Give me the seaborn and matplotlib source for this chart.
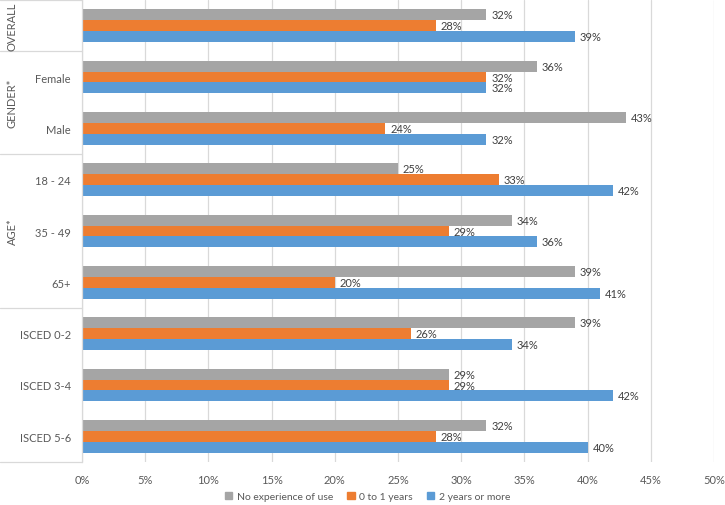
import matplotlib
matplotlib.use("Agg")
import matplotlib.pyplot as plt
import matplotlib.patches as mpatches
import seaborn as sns
import pandas as pd

categories = ["Overall", "Female", "Male", "18 - 24", "35 - 49", "65+",
              "ISCED 0-2", "ISCED 3-4", "ISCED 5-6"]
tick_labels = ["", "Female", "Male", "18 - 24", "35 - 49", "65+",
               "ISCED 0-2", "ISCED 3-4", "ISCED 5-6"]
series = ["No experience of use", "0 to 1 years", "2 years or more"]
no_experience = [32, 36, 43, 25, 34, 39, 39, 29, 32]
zero_to_one = [28, 32, 24, 33, 29, 20, 26, 29, 28]
two_or_more = [39, 32, 32, 42, 36, 41, 34, 42, 40]
groups = [("OVERALL", 0, 0), ("GENDER*", 1, 2), ("AGE*", 3, 5), ("", 6, 8)]
x_ticks = [0, 5, 10, 15, 20, 25, 30, 35, 40, 45, 50]
colors = ["#A5A5A5", "#ED7D31", "#5B9BD5"]

rows = []
for s, vals in zip(series, [no_experience, zero_to_one, two_or_more]):
    for c, v in zip(categories, vals):
        rows.append({"category": c, "series": s, "value": v})
df = pd.DataFrame(rows)

sns.set_style("white")
plt.rcParams["font.family"] = ["Lato", "DejaVu Sans"]
text_color = "#595959"
fs = 8

fig = plt.figure(figsize=(7.25, 5.06), dpi=100)
ax_w = 632
ax = fig.add_axes([82 / 725, 1 - 463 / 506, ax_w / 725, 462 / 506])

sns.barplot(data=df, y="category", x="value", hue="series", order=categories,
            hue_order=series, palette=colors, orient="h", width=0.64,
            saturation=1, ax=ax, legend=False, linewidth=0)

for cont in ax.containers:
    ax.bar_label(cont, labels=[f"{v:.0f}%" for v in cont.datavalues],
                 padding=3.5, fontsize=fs, color="#404040")

ax.set_xlim(0, 50)
ax.set_xticks(x_ticks)
ax.set_xticklabels([f"{t}%" for t in x_ticks], fontsize=fs, color=text_color)
ax.set_yticks(range(len(categories)))
ax.set_yticklabels(tick_labels, fontsize=fs, color=text_color)
ax.set_ylim(len(categories) - 0.5, -0.5)
ax.tick_params(axis="x", length=0, pad=8.5)
ax.tick_params(axis="y", length=0, pad=8)
ax.set_xlabel("")
ax.set_ylabel("")
ax.grid(axis="x", color="#D9D9D9", linewidth=0.9)
ax.grid(axis="y", visible=False)
ax.set_axisbelow(True)
for sp in ["top", "right", "bottom"]:
    ax.spines[sp].set_visible(False)
ax.spines["left"].set_color("#D9D9D9")
ax.spines["left"].set_linewidth(0.9)

# category-group table lines and labels
trans = ax.get_yaxis_transform()
left_x = -82 / ax_w
for boundary in [-0.5, 0.5, 2.5, 5.5, 8.5]:
    ax.plot([left_x, 0], [boundary, boundary], transform=trans, color="#D9D9D9",
            linewidth=0.9, clip_on=False)
for name, a, b in groups:
    if name:
        ax.text(left_x + 12 / ax_w, (a + b) / 2, name, transform=trans,
                rotation=90, ha="center", va="center", fontsize=fs, color=text_color)

handles = [mpatches.Patch(color=c, label=s) for c, s in zip(colors, series)]
fig.legend(handles=handles, loc="lower center", bbox_to_anchor=(0.507, 0.0),
           ncol=3, frameon=False, fontsize=7.5, handlelength=0.7, handleheight=0.7,
           handletextpad=0.4, columnspacing=1.4, labelcolor=text_color,
           borderaxespad=0.0)

fig.savefig("out.png", dpi=100)
